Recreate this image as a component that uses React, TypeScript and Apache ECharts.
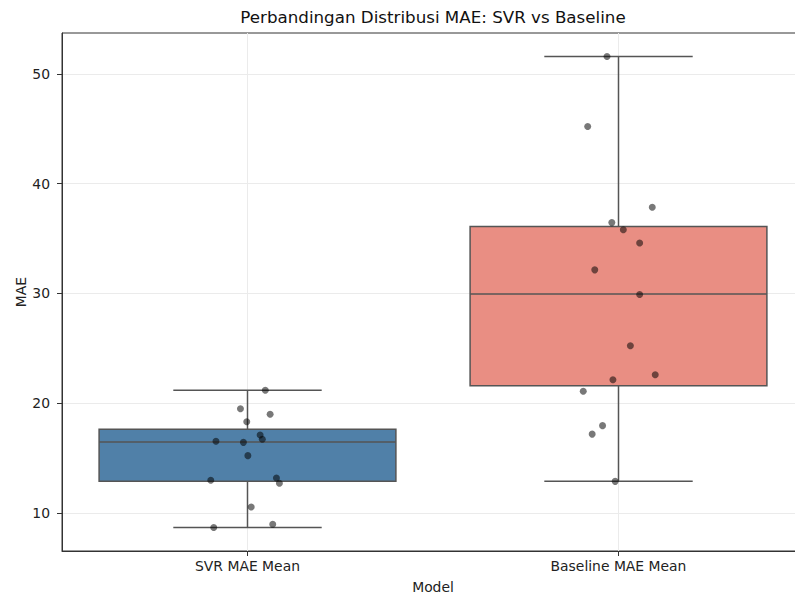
import React, { useEffect, useRef } from 'react';
import * as echarts from 'echarts';

const categories = ['SVR MAE Mean', 'Baseline MAE Mean'];
const boxMin = [8.7, 12.9];
const boxQ1 = [12.9, 21.6];
const boxMedian = [16.48, 29.95];
const boxQ3 = [17.64, 36.1];
const boxMax = [21.2, 51.57];

const svrValues = [21.2, 19.5, 19.0, 18.33, 17.12, 16.73, 16.55, 16.45, 15.24, 13.0, 13.2, 12.73, 10.57, 8.7, 9.0];
const svrJitter = [0.048, -0.019, 0.061, -0.002, 0.034, 0.04, -0.085, -0.011, 0.001, -0.099, 0.078, 0.086, 0.01, -0.091, 0.068];
const baselineValues = [51.57, 45.2, 37.85, 36.45, 35.8, 34.6, 32.15, 29.9, 25.25, 22.6, 22.15, 21.1, 17.97, 17.2, 12.9];
const baselineJitter = [-0.031, -0.083, 0.091, -0.018, 0.013, 0.057, -0.064, 0.057, 0.032, 0.099, -0.015, -0.095, -0.043, -0.071, -0.009];

const yTicks = [10, 20, 30, 40, 50];
const yMin = 6.56;
const yMax = 53.71;

const boxColors = ['#5080a8', '#e98e83'];
const lineColor = '#555555';
const gridColor = '#ebebeb';
const FONT = 'DejaVu Sans';

export default function App() {
  const ref = useRef<HTMLDivElement>(null);
  useEffect(() => {
    if (!ref.current) return;
    const chart = echarts.init(ref.current, undefined, { renderer: 'svg' });
    const boxData = categories.map((_, i) => [i, boxMin[i], boxQ1[i], boxMedian[i], boxQ3[i], boxMax[i]]);
    const scatterData = [
      ...svrValues.map((v, k) => [0 + svrJitter[k], v]),
      ...baselineValues.map((v, k) => [1 + baselineJitter[k], v]),
    ];
    chart.setOption({
      animation: false,
      backgroundColor: '#ffffff',
      grid: {
        left: 62,
        top: 33,
        right: 6,
        bottom: 46,
        outerBoundsMode: 'none',
        containLabel: false,
        show: true,
        borderColor: '#333333',
        borderWidth: 1,
        backgroundColor: 'transparent',
      },
      xAxis: [
        {
          type: 'category',
          data: categories,
          position: 'bottom',
          boundaryGap: true,
          axisLine: { show: true, onZero: false, lineStyle: { color: '#333333', width: 1 } },
          axisTick: { show: true, alignWithLabel: true, length: 5, lineStyle: { color: '#333333' } },
          axisLabel: { fontSize: 13.9, color: '#222222', fontFamily: FONT, margin: 8 },
          splitLine: { show: false },
          name: 'Model',
          nameLocation: 'middle',
          nameMoveOverlap: false,
          nameGap: 29,
          nameTextStyle: { fontSize: 13.9, color: '#222222', fontFamily: FONT },
        },
        {
          type: 'value',
          position: 'top',
          min: -0.5,
          max: 1.5,
          axisLine: { show: false, onZero: false },
          axisTick: { show: false },
          axisLabel: { show: false },
          splitLine: { show: false },
          name: 'Perbandingan Distribusi MAE: SVR vs Baseline',
          nameLocation: 'middle',
          nameMoveOverlap: false,
          nameGap: 8,
          nameTextStyle: { fontSize: 16.7, color: '#111111', fontFamily: FONT, verticalAlign: 'bottom' },
        },
      ],
      yAxis: {
        type: 'value',
        min: yMin,
        max: yMax,
        axisLine: { show: true, onZero: false, lineStyle: { color: '#333333', width: 1 } },
        axisTick: { show: true, length: 5, customValues: yTicks, lineStyle: { color: '#333333' } },
        axisLabel: { customValues: yTicks, fontSize: 13.9, color: '#222222', fontFamily: FONT, margin: 12 },
        splitLine: { show: true, lineStyle: { color: gridColor, width: 1 } },
        name: 'MAE',
        nameLocation: 'middle',
        nameMoveOverlap: false,
        nameGap: 34,
        nameTextStyle: { fontSize: 13.9, color: '#222222', fontFamily: FONT },
      },
      series: [
        {
          type: 'custom',
          xAxisIndex: 1,
          yAxisIndex: 0,
          z: 2,
          data: boxData,
          encode: { x: 0, y: [1, 2, 3, 4, 5] },
          renderItem: (params: any, api: any) => {
            const i = api.value(0);
            const lo = api.value(1);
            const q1 = api.value(2);
            const med = api.value(3);
            const q3 = api.value(4);
            const hi = api.value(5);
            const gTop = api.coord([i, yMax]);
            const gBot = api.coord([i, yMin]);
            const cHi = api.coord([i, hi]);
            const cLo = api.coord([i, lo]);
            const capL = api.coord([i - 0.2, hi])[0];
            const capR = api.coord([i + 0.2, hi])[0];
            const tl = api.coord([i - 0.4, q3]);
            const br = api.coord([i + 0.4, q1]);
            const m = api.coord([i, med]);
            const ls = { stroke: lineColor, lineWidth: 1.5 };
            return {
              type: 'group',
              children: [
                { type: 'line', shape: { x1: gTop[0], y1: gTop[1], x2: gBot[0], y2: gBot[1] }, style: { stroke: gridColor, lineWidth: 1 } },
                { type: 'line', shape: { x1: cHi[0], y1: cHi[1], x2: cLo[0], y2: cLo[1] }, style: ls },
                { type: 'line', shape: { x1: capL, y1: cHi[1], x2: capR, y2: cHi[1] }, style: ls },
                { type: 'line', shape: { x1: capL, y1: cLo[1], x2: capR, y2: cLo[1] }, style: ls },
                {
                  type: 'rect',
                  shape: { x: tl[0], y: tl[1], width: br[0] - tl[0], height: br[1] - tl[1] },
                  style: { fill: boxColors[params.dataIndex], stroke: lineColor, lineWidth: 1.5 },
                },
                { type: 'line', shape: { x1: tl[0], y1: m[1], x2: br[0], y2: m[1] }, style: ls },
              ],
            };
          },
        },
        {
          type: 'scatter',
          xAxisIndex: 1,
          yAxisIndex: 0,
          z: 3,
          symbolSize: 7,
          itemStyle: { color: 'rgba(0,0,0,0.66)' },
          data: scatterData,
        },
      ],
    });
    return () => chart.dispose();
  }, []);
  return <div ref={ref} style={{ position: 'fixed', left: 0, top: 0, width: 810, height: 597 }} />;
}
